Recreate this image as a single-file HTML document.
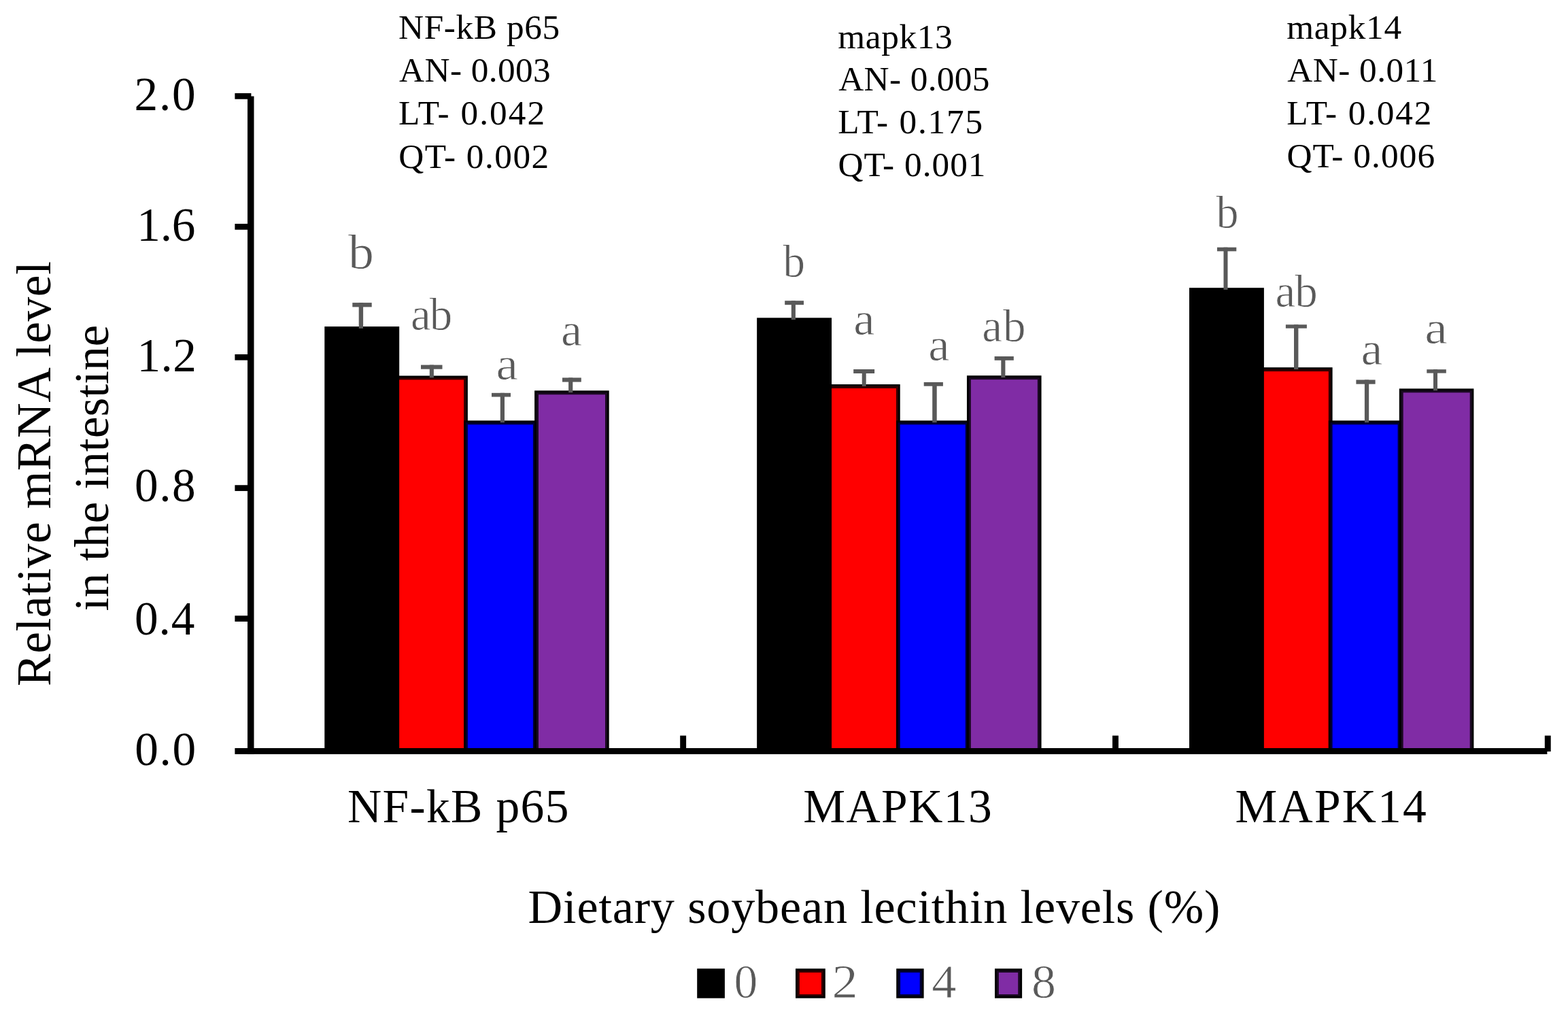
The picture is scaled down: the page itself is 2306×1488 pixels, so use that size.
<!DOCTYPE html>
<html><head><meta charset="utf-8"><title>Relative mRNA level chart</title>
<style>html,body{margin:0;padding:0;background:#fff;}svg{display:block;}text{font-family:"Liberation Serif","Times New Roman",serif;}</style></head><body>
<svg width="2306" height="1488" viewBox="0 0 2306 1488">
<rect x="0" y="0" width="2306" height="1488" fill="#fff"/>
<rect x="477.3" y="480.1" width="109.9" height="626.3" fill="#000"/>
<rect x="581.3" y="552.5" width="106.6" height="553.9" fill="#000"/>
<rect x="587.2" y="555.4" width="97.9" height="551" fill="#340000"/>
<rect x="587.2" y="558.4" width="94.9" height="548" fill="#ff0000"/>
<rect x="682.1" y="618.4" width="107.7" height="488" fill="#000"/>
<rect x="684.9" y="621.3" width="102" height="485.1" fill="#000034"/>
<rect x="687.9" y="624.3" width="96" height="482.1" fill="#0000ff"/>
<rect x="786.1" y="574.3" width="109.6" height="532.1" fill="#000"/>
<rect x="789" y="577.2" width="104" height="529.2" fill="#1a0922"/>
<rect x="792" y="580.2" width="98" height="526.2" fill="#802ca5"/>
<rect x="1113.15" y="467.3" width="109.9" height="639.1" fill="#000"/>
<rect x="1217.15" y="565.1" width="106.6" height="541.3" fill="#000"/>
<rect x="1223.05" y="568" width="97.9" height="538.4" fill="#340000"/>
<rect x="1223.05" y="571" width="94.9" height="535.4" fill="#ff0000"/>
<rect x="1317.95" y="618.4" width="107.7" height="488" fill="#000"/>
<rect x="1320.75" y="621.3" width="102" height="485.1" fill="#000034"/>
<rect x="1323.75" y="624.3" width="96" height="482.1" fill="#0000ff"/>
<rect x="1421.95" y="552.2" width="109.6" height="554.2" fill="#000"/>
<rect x="1424.85" y="555.1" width="104" height="551.3" fill="#1a0922"/>
<rect x="1427.85" y="558.1" width="98" height="548.3" fill="#802ca5"/>
<rect x="1749" y="423.2" width="109.9" height="683.2" fill="#000"/>
<rect x="1853" y="540.2" width="106.6" height="566.2" fill="#000"/>
<rect x="1858.9" y="543.1" width="97.9" height="563.3" fill="#340000"/>
<rect x="1858.9" y="546.1" width="94.9" height="560.3" fill="#ff0000"/>
<rect x="1953.8" y="618.4" width="107.7" height="488" fill="#000"/>
<rect x="1956.6" y="621.3" width="102" height="485.1" fill="#000034"/>
<rect x="1959.6" y="624.3" width="96" height="482.1" fill="#0000ff"/>
<rect x="2057.8" y="571.4" width="109.6" height="535" fill="#000"/>
<rect x="2060.7" y="574.3" width="104" height="532.1" fill="#1a0922"/>
<rect x="2063.7" y="577.3" width="98" height="529.1" fill="#802ca5"/>
<rect x="518.3" y="445.1" width="28.4" height="6.3" fill="#595959"/>
<rect x="527.7" y="445.1" width="6.4" height="37.85" fill="#595959"/>
<rect x="619" y="536.6" width="31.5" height="6.1" fill="#595959"/>
<rect x="631.8" y="536.6" width="6.1" height="18.75" fill="#595959"/>
<rect x="723" y="577.8" width="28" height="5.7" fill="#595959"/>
<rect x="735.8" y="577.8" width="6.2" height="43.45" fill="#595959"/>
<rect x="827" y="555.4" width="27.8" height="6.2" fill="#595959"/>
<rect x="836.1" y="555.4" width="6.2" height="21.75" fill="#595959"/>
<rect x="1154.2" y="442.2" width="27.8" height="6" fill="#595959"/>
<rect x="1163.8" y="442.2" width="6.1" height="27.95" fill="#595959"/>
<rect x="1255.2" y="543" width="30.9" height="6" fill="#595959"/>
<rect x="1267.7" y="543" width="6" height="24.95" fill="#595959"/>
<rect x="1358.7" y="562" width="28.2" height="5.7" fill="#595959"/>
<rect x="1371.2" y="562" width="6.5" height="59.25" fill="#595959"/>
<rect x="1462.6" y="524" width="28.2" height="5.8" fill="#595959"/>
<rect x="1472.3" y="524" width="6.1" height="31.05" fill="#595959"/>
<rect x="1790" y="363.7" width="28.3" height="5.7" fill="#595959"/>
<rect x="1799.5" y="363.7" width="6" height="62.35" fill="#595959"/>
<rect x="1890.9" y="477.3" width="31" height="5.4" fill="#595959"/>
<rect x="1903" y="477.3" width="6.4" height="65.75" fill="#595959"/>
<rect x="1994.4" y="558.5" width="28.2" height="6.2" fill="#595959"/>
<rect x="2006.9" y="558.5" width="6.3" height="62.75" fill="#595959"/>
<rect x="2098.3" y="543.2" width="28.5" height="5.4" fill="#595959"/>
<rect x="2108" y="543.2" width="6" height="31.05" fill="#595959"/>
<rect x="364" y="141.5" width="9.5" height="967.5" fill="#000"/>
<rect x="345.4" y="137.05" width="24" height="8.7" fill="#000"/>
<rect x="345.4" y="329.05" width="24" height="8.7" fill="#000"/>
<rect x="345.4" y="520.95" width="24" height="8.7" fill="#000"/>
<rect x="345.4" y="713.25" width="24" height="8.7" fill="#000"/>
<rect x="345.4" y="905.25" width="24" height="8.7" fill="#000"/>
<rect x="345.4" y="1100" width="1930" height="8.9" fill="#000"/>
<rect x="1000.2" y="1081.6" width="8.9" height="22" fill="#000"/>
<rect x="1636" y="1081.6" width="8.9" height="22" fill="#000"/>
<rect x="2271.8" y="1081.6" width="8.9" height="23.4" fill="#000"/>
<rect x="1025.2" y="1424.2" width="40.7" height="43.5" fill="#000"/>
<rect x="1170" y="1424.2" width="43.8" height="43.5" fill="#000"/>
<rect x="1172.9" y="1427.2" width="38" height="37.5" fill="#340000"/>
<rect x="1175.9" y="1430" width="32" height="32" fill="#ff0000"/>
<rect x="1318.2" y="1424.2" width="40.4" height="43.5" fill="#000"/>
<rect x="1321.1" y="1427.2" width="34.6" height="37.5" fill="#000034"/>
<rect x="1324.1" y="1430" width="28.6" height="32" fill="#0000ff"/>
<rect x="1463" y="1424.2" width="40.1" height="43.5" fill="#000"/>
<rect x="1465.9" y="1427.2" width="34.3" height="37.5" fill="#1a0922"/>
<rect x="1468.9" y="1430" width="28.3" height="32" fill="#802ca5"/>
<text id="t1a" x="586" y="57.2" font-size="51.3" fill="#000000" textLength="237.28" lengthAdjust="spacing">NF-kB p65</text>
<text id="t1b" x="587" y="120.1" font-size="51.3" fill="#000000" textLength="222.75" lengthAdjust="spacing">AN- 0.003</text>
<text id="t1c" x="586" y="183.4" font-size="51.3" fill="#000000" textLength="215.21" lengthAdjust="spacing">LT- 0.042</text>
<text id="t1d" x="586.2" y="246.8" font-size="51.3" fill="#000000" textLength="221.07" lengthAdjust="spacing">QT- 0.002</text>
<text id="t2a" x="1232.2" y="70.5" font-size="51.3" fill="#000000" textLength="168.41" lengthAdjust="spacing">mapk13</text>
<text id="t2b" x="1233.2" y="133.3" font-size="51.3" fill="#000000" textLength="222.32" lengthAdjust="spacing">AN- 0.005</text>
<text id="t2c" x="1232.2" y="196.2" font-size="51.3" fill="#000000" textLength="212.97" lengthAdjust="spacing">LT- 0.175</text>
<text id="t2d" x="1232.4" y="258.6" font-size="51.3" fill="#000000" textLength="217.08" lengthAdjust="spacing">QT- 0.001</text>
<text id="t3a" x="1892.2" y="57.2" font-size="51.3" fill="#000000" textLength="168.92" lengthAdjust="spacing">mapk14</text>
<text id="t3b" x="1893.2" y="120.1" font-size="51.3" fill="#000000" textLength="221.27" lengthAdjust="spacing">AN- 0.011</text>
<text id="t3c" x="1892.2" y="183.4" font-size="51.3" fill="#000000" textLength="213.21" lengthAdjust="spacing">LT- 0.042</text>
<text id="t3d" x="1892.4" y="246" font-size="51.3" fill="#000000" textLength="217.76" lengthAdjust="spacing">QT- 0.006</text>
<text id="y20" x="197.6" y="161.5" font-size="69.3" fill="#000000" textLength="89.98" lengthAdjust="spacing">2.0</text>
<text id="y16" x="201.2" y="353.8" font-size="69.3" fill="#000000" textLength="86.32" lengthAdjust="spacing">1.6</text>
<text id="y12" x="201.6" y="545.8" font-size="69.3" fill="#000000" textLength="87.22" lengthAdjust="spacing">1.2</text>
<text id="y08" x="198" y="737.3" font-size="69.3" fill="#000000" textLength="89.75" lengthAdjust="spacing">0.8</text>
<text id="y04" x="198" y="932.5" font-size="69.3" fill="#000000" textLength="88.32" lengthAdjust="spacing">0.4</text>
<text id="y00" x="198.2" y="1124.8" font-size="69.3" fill="#000000" textLength="90.02" lengthAdjust="spacing">0.0</text>
<text id="c1" x="511" y="1209.3" font-size="69.5" fill="#000000" textLength="325.41" lengthAdjust="spacing">NF-kB p65</text>
<text id="c2" x="1181.2" y="1209.4" font-size="69.5" fill="#000000" textLength="277.49" lengthAdjust="spacing">MAPK13</text>
<text id="c3" x="1816.6" y="1209.4" font-size="69.5" fill="#000000" textLength="281.05" lengthAdjust="spacing">MAPK14</text>
<text id="xt" x="776.6" y="1357.4" font-size="70.2" fill="#000000" textLength="1017.81" lengthAdjust="spacing">Dietary soybean lecithin levels (%)</text>
<text id="d1k" transform="translate(512 394.5) scale(1.0606 1)" x="0" y="0" font-size="71.5" fill="#595959" stroke="#fff" stroke-width="0.8">b</text>
<text id="d1r" x="604" y="485.4" font-size="67" fill="#595959" textLength="61.33" lengthAdjust="spacing" stroke="#fff" stroke-width="0.8">ab</text>
<text id="d1b" transform="translate(729.4 558) scale(1.0927 1)" x="0" y="0" font-size="67" fill="#595959" stroke="#fff" stroke-width="0.8">a</text>
<text id="d1p" transform="translate(825 507.8) scale(1.0450 1)" x="0" y="0" font-size="67" fill="#595959" stroke="#fff" stroke-width="0.8">a</text>
<text id="d2k" transform="translate(1151.6 406.9) scale(0.9688 1)" x="0" y="0" font-size="67" fill="#595959" stroke="#fff" stroke-width="0.8">b</text>
<text id="d2r" transform="translate(1255.2 491.9) scale(1.0548 1)" x="0" y="0" font-size="67" fill="#595959" stroke="#fff" stroke-width="0.8">a</text>
<text id="d2b" transform="translate(1365.2 529.8) scale(1.0548 1)" x="0" y="0" font-size="67" fill="#595959" stroke="#fff" stroke-width="0.8">a</text>
<text id="d2p" x="1444.2" y="501.8" font-size="67" fill="#595959" textLength="64.18" lengthAdjust="spacing" stroke="#fff" stroke-width="0.8">ab</text>
<text id="d3k" transform="translate(1788.4 334.5) scale(0.9872 1)" x="0" y="0" font-size="67" fill="#595959" stroke="#fff" stroke-width="0.8">b</text>
<text id="d3r" x="1875.6" y="451" font-size="67" fill="#595959" textLength="62.2" lengthAdjust="spacing" stroke="#fff" stroke-width="0.8">ab</text>
<text id="d3b" transform="translate(2001.4 536.1) scale(1.0698 1)" x="0" y="0" font-size="67" fill="#595959" stroke="#fff" stroke-width="0.8">a</text>
<text id="d3p" transform="translate(2095.2 504.8) scale(1.1316 1)" x="0" y="0" font-size="67" fill="#595959" stroke="#fff" stroke-width="0.8">a</text>
<text id="l0" transform="translate(1079.6 1467.4) scale(1.0071 1)" x="0" y="0" font-size="69" fill="#595959" stroke="#fff" stroke-width="0.8">0</text>
<text id="l2" transform="translate(1223.6 1467.4) scale(1.1071 1)" x="0" y="0" font-size="69" fill="#595959" stroke="#fff" stroke-width="0.8">2</text>
<text id="l4" transform="translate(1370.2 1467.4) scale(1.0510 1)" x="0" y="0" font-size="69" fill="#595959" stroke="#fff" stroke-width="0.8">4</text>
<text id="l8" transform="translate(1517 1467.4) scale(1.0417 1)" x="0" y="0" font-size="69" fill="#595959" stroke="#fff" stroke-width="0.8">8</text>
<text id="yt1" transform="translate(73.9 1009) rotate(-90)" x="0" y="0" font-size="71.5" fill="#000000" textLength="624.81" lengthAdjust="spacing">Relative mRNA level</text>
<text id="yt2" transform="translate(158.6 898.4) rotate(-90)" x="0" y="0" font-size="71.5" fill="#000000" textLength="420.78" lengthAdjust="spacing">in the intestine</text>
</svg></body></html>
